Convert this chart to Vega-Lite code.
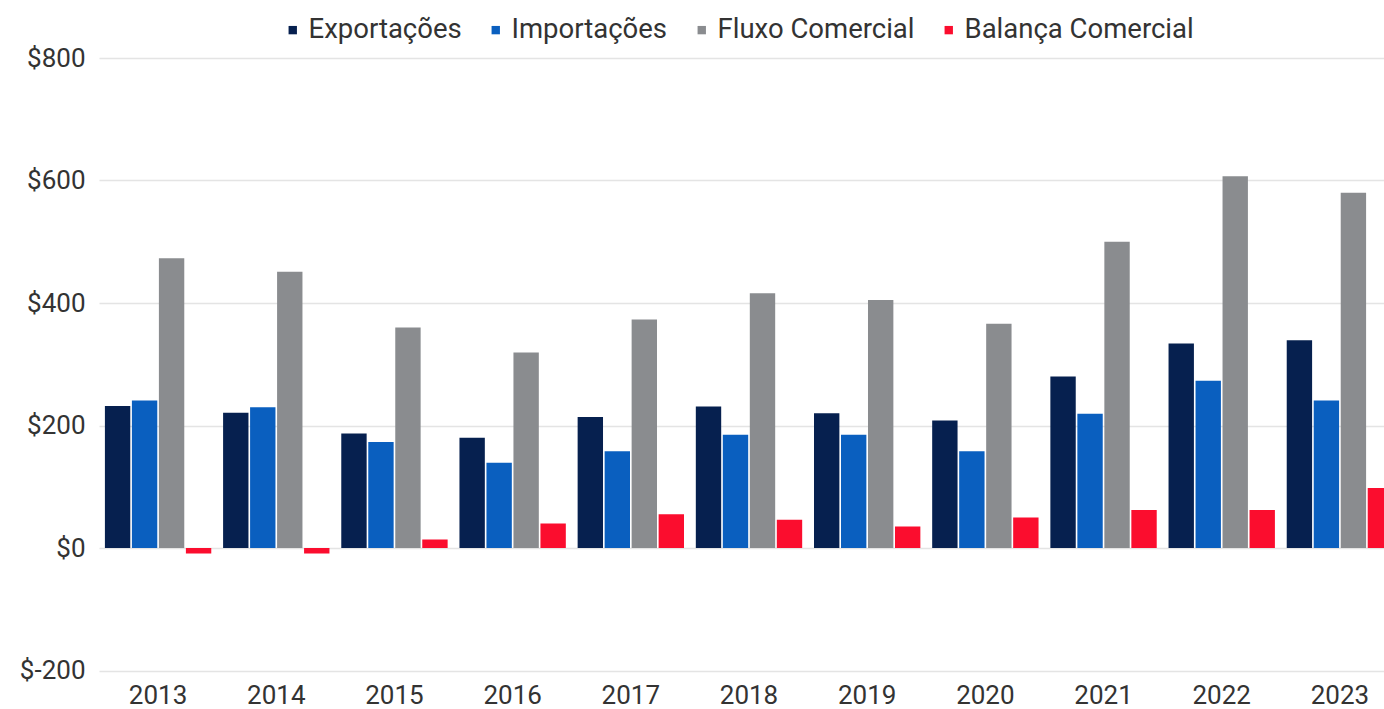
{
  "$schema": "https://vega.github.io/schema/vega-lite/v6.json",
  "width": 1285,
  "height": 612.5,
  "autosize": "none",
  "padding": {"left": 99, "top": 58, "right": 0, "bottom": 38.5},
  "background": "white",
  "config": {
    "font": "Roboto",
    "view": {"stroke": null}
  },
  "data": {
    "values": [
      {"ano": "2013", "serie": "Exportações", "valor": 232},
      {"ano": "2013", "serie": "Importações", "valor": 241},
      {"ano": "2013", "serie": "Fluxo Comercial", "valor": 473},
      {"ano": "2013", "serie": "Balança Comercial", "valor": -9},
      {"ano": "2014", "serie": "Exportações", "valor": 221},
      {"ano": "2014", "serie": "Importações", "valor": 230},
      {"ano": "2014", "serie": "Fluxo Comercial", "valor": 451},
      {"ano": "2014", "serie": "Balança Comercial", "valor": -9},
      {"ano": "2015", "serie": "Exportações", "valor": 187},
      {"ano": "2015", "serie": "Importações", "valor": 173},
      {"ano": "2015", "serie": "Fluxo Comercial", "valor": 360},
      {"ano": "2015", "serie": "Balança Comercial", "valor": 14},
      {"ano": "2016", "serie": "Exportações", "valor": 180},
      {"ano": "2016", "serie": "Importações", "valor": 139},
      {"ano": "2016", "serie": "Fluxo Comercial", "valor": 319},
      {"ano": "2016", "serie": "Balança Comercial", "valor": 40},
      {"ano": "2017", "serie": "Exportações", "valor": 214},
      {"ano": "2017", "serie": "Importações", "valor": 158},
      {"ano": "2017", "serie": "Fluxo Comercial", "valor": 373},
      {"ano": "2017", "serie": "Balança Comercial", "valor": 55},
      {"ano": "2018", "serie": "Exportações", "valor": 231},
      {"ano": "2018", "serie": "Importações", "valor": 185},
      {"ano": "2018", "serie": "Fluxo Comercial", "valor": 416},
      {"ano": "2018", "serie": "Balança Comercial", "valor": 46},
      {"ano": "2019", "serie": "Exportações", "valor": 220},
      {"ano": "2019", "serie": "Importações", "valor": 185},
      {"ano": "2019", "serie": "Fluxo Comercial", "valor": 405},
      {"ano": "2019", "serie": "Balança Comercial", "valor": 35},
      {"ano": "2020", "serie": "Exportações", "valor": 208},
      {"ano": "2020", "serie": "Importações", "valor": 158},
      {"ano": "2020", "serie": "Fluxo Comercial", "valor": 366},
      {"ano": "2020", "serie": "Balança Comercial", "valor": 50},
      {"ano": "2021", "serie": "Exportações", "valor": 280},
      {"ano": "2021", "serie": "Importações", "valor": 219},
      {"ano": "2021", "serie": "Fluxo Comercial", "valor": 500},
      {"ano": "2021", "serie": "Balança Comercial", "valor": 62},
      {"ano": "2022", "serie": "Exportações", "valor": 334},
      {"ano": "2022", "serie": "Importações", "valor": 273},
      {"ano": "2022", "serie": "Fluxo Comercial", "valor": 607},
      {"ano": "2022", "serie": "Balança Comercial", "valor": 62},
      {"ano": "2023", "serie": "Exportações", "valor": 339},
      {"ano": "2023", "serie": "Importações", "valor": 241},
      {"ano": "2023", "serie": "Fluxo Comercial", "valor": 580},
      {"ano": "2023", "serie": "Balança Comercial", "valor": 98}
    ]
  },
  "mark": {"type": "bar", "clip": true},
  "encoding": {
    "x": {
      "field": "ano",
      "type": "nominal",
      "scale": {"range": [0, 1300], "paddingInner": 0.1, "paddingOuter": 0.05},
      "axis": {
        "title": null,
        "labelAngle": 0,
        "ticks": false,
        "domain": false,
        "grid": false,
        "labelPadding": 12,
        "labelFontSize": 26,
        "labelColor": "#333333"
      }
    },
    "xOffset": {
      "field": "serie",
      "type": "nominal",
      "sort": ["Exportações", "Importações", "Fluxo Comercial", "Balança Comercial"],
      "scale": {"paddingInner": 0.06}
    },
    "y": {
      "field": "valor",
      "type": "quantitative",
      "scale": {"domain": [-200, 800], "nice": false, "zero": true},
      "axis": {
        "title": null,
        "values": [-200, 0, 200, 400, 600, 800],
        "labelExpr": "'$' + datum.value",
        "ticks": false,
        "domain": false,
        "gridColor": "#e4e4e4",
        "gridWidth": 1.5,
        "labelPadding": 14,
        "labelFontSize": 26,
        "labelColor": "#333333"
      }
    },
    "color": {
      "field": "serie",
      "type": "nominal",
      "sort": ["Exportações", "Importações", "Fluxo Comercial", "Balança Comercial"],
      "scale": {
        "domain": ["Exportações", "Importações", "Fluxo Comercial", "Balança Comercial"],
        "range": ["#06204f", "#0a5fbf", "#8a8c8f", "#fb0d2e"]
      },
      "legend": {
        "title": null,
        "orient": "none",
        "direction": "horizontal",
        "legendX": 180,
        "legendY": -42,
        "symbolType": "square",
        "symbolSize": 70,
        "symbolStrokeWidth": 0,
        "labelFontSize": 27.5,
        "labelColor": "#333333",
        "labelOffset": 2,
        "columnPadding": 20,
        "padding": 0,
        "labelLimit": 400
      }
    }
  }
}
